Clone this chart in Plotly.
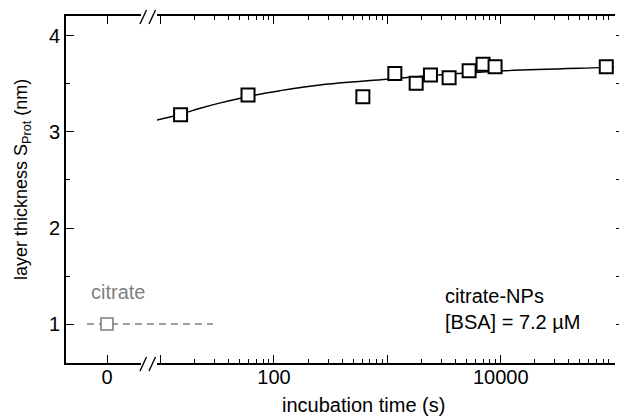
import plotly.graph_objects as go

# ---- data ----
time_s = [15.0, 59, 608, 1164, 1795, 2400, 3506, 5263, 6987, 8913, 85300]
thickness_nm = [3.18, 3.385, 3.368, 3.61, 3.507, 3.594, 3.566, 3.639, 3.705, 3.68, 3.68]

fit_time_s = [9, 15, 22, 33, 59, 113, 254, 984, 2535, 9790, 74500, 100000]
fit_thickness_nm = [3.12, 3.185, 3.245, 3.30, 3.37, 3.43, 3.49, 3.55, 3.59, 3.635, 3.67, 3.675]

citrate_x = [0]
citrate_y = [1.0]
citrate_line_x = [-0.49, 2.58]
citrate_line_y = [1.0, 1.0]

log_tickvals = [10, 100, 1000, 10000, 100000]
log_ticktext = ["", "100", "", "10000", ""]
lin_tickvals = [0]
lin_ticktext = ["0"]
y_tickvals = [1, 2, 3, 4]

# ---- geometry (page pixels; the page body has an 8px offset) ----
OFF = 8
W, H = 627 - OFF, 418 - OFF
ML, MR, MT, MB = 66 - OFF, 0, 16 - OFF, 55
PW = W - ML - MR
PH = H - MT - MB

def px_x(p):
    return (p - OFF - ML) / PW

def px_y(p):
    return (H - MB - (p - OFF)) / PH

lin_dom = [0, px_x(141)]
log_dom = [px_x(157), px_x(615)]
lin_range = [-1.0, (141 - 107) / 41]
full_range = [-1.0, -1.0 + PW / 41]
log_range = [0.968, 5.008]
y_range = [0.594, 4.208]

FONT = "Liberation Sans, Arial, sans-serif"
GRAY = "#7f7f7f"

fig = go.Figure()

# full-width hidden linear axis (x): citrate reference line
fig.add_trace(go.Scatter(x=citrate_line_x, y=citrate_line_y, xaxis="x", yaxis="y",
                         mode="lines", line=dict(color=GRAY, width=1.4, dash="7px,5px"),
                         showlegend=False, hoverinfo="skip"))
# visible linear axis (x3): citrate point
fig.add_trace(go.Scatter(x=citrate_x, y=citrate_y, xaxis="x3", yaxis="y",
                         mode="markers",
                         marker=dict(symbol="square", size=12, color="white",
                                     line=dict(color=GRAY, width=1.6)),
                         showlegend=False))
# log axis (x2) with right-hand tick axis (y2, same range): fit + data
fig.add_trace(go.Scatter(x=fit_time_s, y=fit_thickness_nm, xaxis="x2", yaxis="y2",
                         mode="lines", line=dict(color="black", width=1.4, shape="spline"),
                         showlegend=False, hoverinfo="skip"))
fig.add_trace(go.Scatter(x=time_s, y=thickness_nm, xaxis="x2", yaxis="y2",
                         mode="markers",
                         marker=dict(symbol="square", size=13, color="white",
                                     line=dict(color="black", width=2)),
                         showlegend=False))

minor_log = [m * 10 ** d for d in range(1, 5) for m in range(2, 10)]

axis_common = dict(showline=True, linecolor="black", linewidth=1.6, ticks="inside",
                   tickcolor="black", tickwidth=1.4, ticklen=8, showgrid=False,
                   zeroline=False, mirror="ticks", ticklabelstandoff=-5,
                   tickfont=dict(family=FONT, size=20, color="black"))

fig.update_layout(
    width=W, height=H,
    margin=dict(l=ML, r=MR, t=MT, b=MB, pad=0),
    paper_bgcolor="white", plot_bgcolor="rgba(0,0,0,0)",
    font=dict(family=FONT, size=20, color="black"),
    xaxis=dict(domain=[0, 1], range=full_range, anchor="y", visible=False,
               showgrid=False, zeroline=False),
    xaxis2=dict(domain=log_dom, type="log", range=log_range, anchor="y2",
                tickmode="array", tickvals=log_tickvals, ticktext=log_ticktext,
                minor=dict(tickmode="array", tickvals=minor_log, ticks="inside",
                           ticklen=4, tickwidth=1.2, tickcolor="black", showgrid=False),
                **axis_common),
    xaxis3=dict(domain=lin_dom, range=lin_range, anchor="y",
                tickmode="array", tickvals=lin_tickvals, ticktext=lin_ticktext,
                **axis_common),
    yaxis=dict(domain=[0, 1], range=y_range, anchor="x3",
               showline=True, linecolor="black", linewidth=1.6,
               ticks="inside", tickcolor="black", tickwidth=1.4, ticklen=8,
               tickmode="array", tickvals=y_tickvals,
               minor=dict(dtick=0.5, tick0=0, ticks="inside", ticklen=4,
                          tickwidth=1.2, tickcolor="black", showgrid=False),
               showgrid=False, zeroline=False,
               tickfont=dict(family=FONT, size=20, color="black")),
    yaxis2=dict(domain=[0, 1], side="right", anchor="x2",
                range=y_range, showline=False, showgrid=False, zeroline=False,
                ticks="outside", tickcolor="black", tickwidth=1.4, ticklen=9,
                tickmode="array", tickvals=y_tickvals, showticklabels=False,
                minor=dict(dtick=0.5, tick0=0, ticks="outside", ticklen=5,
                           tickwidth=1.2, tickcolor="black", showgrid=False)),
)

# break marks
bx = 148.5
shapes = []
for yb in (363, 16):
    for off in (-8.5, 0.5):
        shapes.append(dict(type="line", xref="paper", yref="paper",
                           x0=px_x(bx + off), y0=px_y(yb + 8),
                           x1=px_x(bx + off + 6.5), y1=px_y(yb - 6),
                           line=dict(color="black", width=1.4)))
fig.update_layout(shapes=shapes)

annotations = [
    dict(text="citrate", xref="x", yref="y", x=0.27, y=1.333, showarrow=False,
         font=dict(family=FONT, size=20, color=GRAY), xanchor="center", yanchor="middle"),
    dict(text="citrate-NPs<br>[BSA] = 7.2 µM", xref="paper", yref="paper",
         x=px_x(443), y=px_y(309), showarrow=False, align="left",
         xanchor="left", yanchor="middle", font=dict(family=FONT, size=20, color="black")),
    dict(text="incubation time (s)", xref="paper", yref="paper",
         x=px_x(363.5), y=px_y(405), showarrow=False,
         xanchor="center", yanchor="middle", font=dict(family=FONT, size=20, color="black")),
    dict(text="layer thickness S<sub>Prot</sub> (nm)", xref="paper", yref="paper",
         x=px_x(22), y=px_y(180), showarrow=False, textangle=-90,
         xanchor="center", yanchor="middle", font=dict(family=FONT, size=18, color="black")),
]
fig.update_layout(annotations=annotations)

fig.write_html("out.html")
